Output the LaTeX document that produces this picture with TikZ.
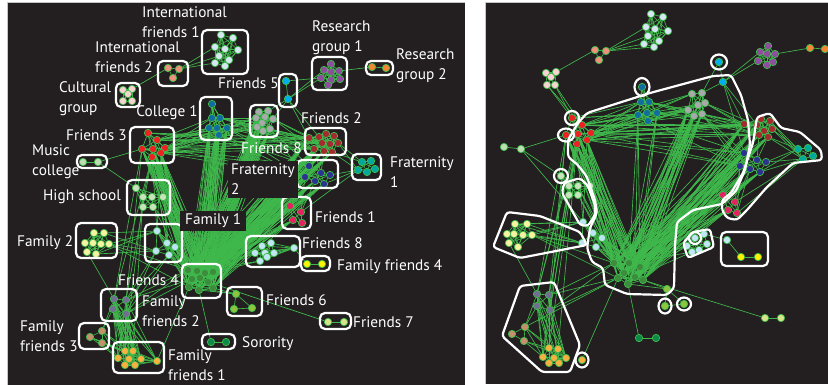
\documentclass[tikz,border=0pt]{standalone}
\usepackage{fontspec}
\setmainfont{PT Sans}
\definecolor{panel}{HTML}{231F20}
\definecolor{link}{HTML}{3FB94C}
\definecolor{cIFa}{HTML}{D6E6F2}
\definecolor{cIFb}{HTML}{F1917D}
\definecolor{cCul}{HTML}{F8D3D0}
\definecolor{cCol}{HTML}{116DA0}
\definecolor{cFrc}{HTML}{EE2024}
\definecolor{cMus}{HTML}{BFDDB3}
\definecolor{cHs}{HTML}{C7E4BA}
\definecolor{cFaa}{HTML}{BDE3F5}
\definecolor{cFab}{HTML}{F7F3A1}
\definecolor{cFrd}{HTML}{3D8B3D}
\definecolor{cFfb}{HTML}{716E92}
\definecolor{cFfc}{HTML}{C6906D}
\definecolor{cFfa}{HTML}{F8B040}
\definecolor{cSor}{HTML}{0D8A47}
\definecolor{cFre}{HTML}{00AEEF}
\definecolor{cRga}{HTML}{904C9E}
\definecolor{cRgb}{HTML}{F48634}
\definecolor{cFhg}{HTML}{A8A9AB}
\definecolor{cFrb}{HTML}{A52A30}
\definecolor{cFta}{HTML}{00A99E}
\definecolor{cFtb}{HTML}{2D3290}
\definecolor{cFra}{HTML}{E6215F}
\definecolor{cFhb}{HTML}{C3E6F5}
\definecolor{cFfd}{HTML}{FFF200}
\definecolor{cFrf}{HTML}{8CC63F}
\definecolor{cFrg}{HTML}{D8E48B}
\pgfdeclarelayer{panels}
\pgfdeclarelayer{links}
\pgfsetlayers{panels,links,main}
% a group of people: prefix, colour, list of positions
\newcommand\grp[3]{\foreach \p [count=\k] in {#3}{\node[person, fill=#2] (#1-\k) at \p {};}}
% members listed in #2 of group #1 tied to members listed in #4 of group #3
\newcommand\link[4]{\foreach \i in {#2}{\foreach \j in {#4}{\draw[edge] (#1-\i) -- (#3-\j);}}}
% every pair inside one group
\newcommand\clq[2]{\foreach \i in {1,...,#2}{\foreach \j in {1,...,#2}{\ifnum\i<\j\relax\draw[edge] (#1-\i) -- (#1-\j);\fi}}}
\begin{document}
\begin{tikzpicture}[x=1pt,y=-1pt,
  person/.style={circle, minimum size=7.4pt, inner sep=0pt, draw=link, line width=0.7pt},
  edge/.style={draw=link, line width=0.65pt},
  grpbox/.style={draw=white, line width=2.2pt, rounded corners=5pt},
  hull/.style={draw=white, line width=2.2pt, rounded corners=3pt},
  lbl/.style={text=white, font=\fontsize{15.3}{20}\selectfont, align=left, inner sep=1pt},
  lblbg/.style={lbl, fill=panel, inner sep=3pt}]
\useasboundingbox (0,0) rectangle (828,385);
\begin{pgfonlayer}{panels}
  \fill[white] (0,0) rectangle (828,385);
  \fill[panel] (7,2) rectangle (465,385);
  \draw[gray!45, line width=0.8pt] (7,385) -- (7,2) -- (465,2);
  \fill[panel] (485,2) rectangle (828,384);
  \draw[gray!45, line width=0.8pt] (485,384) -- (485,2) -- (828,2);
\end{pgfonlayer}

% ---------------- left panel: groups in boxes ----------------
\grp{L-ifa}{cIFa}{(221,35),(233,38),(215,47),(225,49),(238,50),(219,56),(229,60),(215,63),(225,66)}
\grp{L-ifb}{cIFb}{(168,68),(179,69),(173,78)}
\grp{L-cul}{cCul}{(123,90),(132,89),(128,94),(123,101),(132,101)}
\grp{L-col}{cCol}{(212,104),(212,118),(220,118),(209,128),(217,128),(227,128),(219,135)}
\grp{L-frc}{cFrc}{(148,133),(157,140),(142,149),(153,149),(165,148),(152,157),(161,153)}
\grp{L-mus}{cMus}{(83,162),(98,162)}
\grp{L-hs}{cHs}{(136,188),(143,197),(152,197),(163,197),(143,207),(153,207)}
\grp{L-faa}{cFaa}{(157,231),(167,243),(175,247),(156,251),(169,255)}
\grp{L-fab}{cFab}{(94,233),(104,233),(85,243),(93,243),(101,244),(109,244),(87,252),(96,254)}
\grp{L-frd}{cFrd}{(188,270),(197,271),(205,273),(213,272),(192,279),(200,278),(208,282),(189,287),(199,290),(213,288)}
\grp{L-ffb}{cFfb}{(114,299),(126,300),(113,309),(126,314)}
\grp{L-ffc}{cFfc}{(90,337),(102,331),(102,343)}
\grp{L-ffa}{cFfa}{(125,351),(133,351),(118,358),(129,359),(141,359),(125,365),(135,365),(157,361)}
\grp{L-sor}{cSor}{(211,342),(226,342)}
\grp{L-fre}{cFre}{(286,81),(288,99)}
\grp{L-rga}{cRga}{(331,64),(324,70),(339,71),(331,72),(321,78),(331,80),(340,79),(328,85)}
\grp{L-rgb}{cRgb}{(372,67),(386,68)}
\grp{L-fhg}{cFhg}{(259,112),(268,111),(256,118),(265,117),(273,119),(262,123),(257,127),(263,131),(270,129)}
\grp{L-frb}{cFrb}{(309,138),(319,137),(326,134),(334,136),(322,143),(330,144),(338,143),(314,149),(324,151),(332,152)}
\grp{L-fta}{cFta}{(362,162),(371,161),(358,170),(367,172),(375,169)}
\grp{L-ftb}{cFtb}{(309,166),(321,173),(330,175),(305,177),(315,181),(324,184)}
\grp{L-fra}{cFra}{(290,206),(301,212),(293,220),(302,223)}
\grp{L-fhb}{cFhb}{(262,246),(271,243),(255,253),(265,253),(274,253),(260,261),(267,257),(294,248)}
\grp{L-ffd}{cFfd}{(307,264),(322,264)}
\grp{L-frf}{cFrf}{(236,294),(234,309),(252,308)}
\grp{L-frg}{cFrg}{(328,322),(344,322)}

\begin{pgfonlayer}{links}
  % ties inside each group
  \clq{L-ifa}{9} \clq{L-ifb}{3} \clq{L-cul}{5} \clq{L-col}{7} \clq{L-frc}{7}
  \clq{L-mus}{2} \clq{L-hs}{6} \clq{L-faa}{5} \clq{L-fab}{8} \clq{L-frd}{10}
  \clq{L-ffb}{4} \clq{L-ffc}{3} \clq{L-ffa}{8} \clq{L-sor}{2} \clq{L-fre}{2}
  \clq{L-rga}{8} \clq{L-rgb}{2} \clq{L-fhg}{9} \clq{L-frb}{10} \clq{L-fta}{5}
  \clq{L-ftb}{6} \clq{L-fra}{4} \clq{L-fhb}{8} \clq{L-ffd}{2} \clq{L-frf}{3}
  \clq{L-frg}{2}
  % ties between groups
  \link{L-ifa}{3,6,8}{L-ifb}{2}
  \link{L-ifb}{1}{L-cul}{2}
  \link{L-fre}{1,2}{L-rga}{5} \link{L-fre}{2}{L-rga}{2}
  \link{L-rga}{3}{L-rgb}{1}
  \link{L-fre}{2}{L-fhg}{2,5} \link{L-fre}{2}{L-frb}{1,2}
  \link{L-mus}{2}{L-frc}{3} \link{L-mus}{2}{L-hs}{1}
  \link{L-frc}{6}{L-hs}{2}
  % the strong ties that meet at Friends 4
  \link{L-frc}{3,4,6,7}{L-frd}{1,...,10}
  \link{L-col}{4,5,6,7}{L-frd}{1,...,10}
  \link{L-fhg}{3,6,7,8,9}{L-frd}{1,...,10}
  \link{L-frb}{1,5,8,9,10}{L-frd}{1,...,10}
  \link{L-ftb}{1,4,5,6}{L-frd}{1,...,10}
  \link{L-fra}{1,3}{L-frd}{1,...,10}
  \link{L-fhb}{1,3,6}{L-frd}{2,4}
  \link{L-faa}{1,2,3,5}{L-frd}{1,3,5,8}
  \link{L-frc}{6,7}{L-faa}{1,2,5}
  \link{L-hs}{4,6}{L-frd}{1,4}
  % ties across the top
  \link{L-frc}{2,5}{L-col}{2,4,6}
  \link{L-frc}{2,5,7}{L-fhg}{3,5,7}
  \link{L-frc}{1,2,5,7}{L-frb}{1,5,8}
  \link{L-frc}{5,7}{L-ftb}{1,4}
  \link{L-col}{2,3,6}{L-fhg}{3,6}
  \link{L-col}{3,6}{L-frb}{1,5,8}
  \link{L-col}{6,7}{L-ftb}{1,4}
  \link{L-fhg}{5,9}{L-frb}{1,5,8}
  \link{L-fhg}{9}{L-ftb}{1,4}
  \link{L-frb}{7,10}{L-fta}{1,3}
  \link{L-ftb}{3,6}{L-fta}{3}
  \link{L-frb}{8,9}{L-ftb}{1,2}
  \link{L-fra}{1,2}{L-ftb}{4,5}
  \link{L-fra}{2}{L-fta}{3}
  % family ties
  \link{L-fab}{2,6,8}{L-faa}{1,4}
  \link{L-fab}{6}{L-frd}{1,8}
  \link{L-fab}{7}{L-ffb}{1}
  \link{L-ffb}{2,4}{L-frd}{1,5}
  \link{L-ffb}{2,4}{L-faa}{4,5}
  \link{L-ffb}{1,...,4}{L-ffa}{1,...,8}
  \link{L-ffc}{1,2,3}{L-ffa}{1,3,5}
  \link{L-ffb}{1,3}{L-ffc}{2}
  \link{L-ffb}{1,2}{L-frc}{3,6}
  \link{L-ffa}{1,2}{L-hs}{2}
  \link{L-ffa}{8}{L-frd}{8}
  \link{L-frd}{8,9,10}{L-frf}{1}
  \link{L-frd}{7}{L-frg}{1}
  \link{L-frd}{9}{L-sor}{1}
  \link{L-fhb}{8}{L-ffd}{1}
\end{pgfonlayer}

% boxes round the groups
\draw[grpbox] (202,30) rectangle (248,74);
\draw[grpbox] (158,61) rectangle (188,86);
\draw[grpbox] (116,83) rectangle (140,107);
\draw[grpbox] (200,97) rectangle (232,140);
\draw[grpbox] (130,127) rectangle (174,163);
\draw[grpbox] (77,155) rectangle (107,168);
\draw[grpbox] (127,180) rectangle (170,215);
\draw[grpbox] (145,224) rectangle (182,262);
\draw[grpbox] (76,223) rectangle (117,258);
\draw[grpbox] (182,264) rectangle (221,298);
\draw[grpbox] (101,289) rectangle (137,321);
\draw[grpbox] (79,323) rectangle (109,349);
\draw[grpbox] (113,342) rectangle (164,373);
\draw[grpbox] (202,334) rectangle (235,349);
\draw[grpbox] (279,74) rectangle (297,107);
\draw[grpbox] (312,57) rectangle (347,90);
\draw[grpbox] (366,61) rectangle (393,75);
\draw[grpbox] (250,105) rectangle (278,137);
\draw[grpbox] (305,128) rectangle (346,155);
\draw[grpbox] (352,154) rectangle (381,180);
\draw[grpbox] (297,160) rectangle (338,188);
\draw[grpbox] (282,197) rectangle (311,229);
\draw[grpbox] (246,236) rectangle (300,267);
\draw[grpbox] (301,256) rectangle (330,271);
\draw[grpbox] (227,287) rectangle (262,316);
\draw[grpbox] (320,313) rectangle (351,329);

% group names
\node[lbl, anchor=west] (t-ifa) at (141,22) {International\\friends 1};
\node[lbl, anchor=west] (t-ifb) at (94,57.5) {International\\friends 2};
\node[lbl, anchor=west] (t-cul) at (58,98.5) {Cultural\\group};
\node[lbl, anchor=east] (t-col) at (199,113) {College 1};
\node[lbl, anchor=west] (t-frc) at (65,135) {Friends 3};
\node[lbl, anchor=west] (t-mus) at (31,161.5) {Music\\college};
\node[lbl, anchor=west] (t-hs) at (42,197) {High school};
\node[lblbg, anchor=west, minimum width=66pt] (t-faa) at (180,221) {Family 1};
\node[lbl, anchor=west] (t-fab) at (16,243) {Family 2};
\node[lbl, anchor=west] (t-frd) at (117,280) {Friends 4};
\node[lbl, anchor=west] (t-ffb) at (141,311) {Family\\friends 2};
\node[lbl, anchor=west] (t-ffc) at (19,336) {Family\\friends 3};
\node[lbl, anchor=west] (t-ffa) at (167,365) {Family\\friends 1};
\node[lbl, anchor=west] (t-sor) at (241,344) {Sorority};
\node[lbl, anchor=west] (t-fre) at (217,83) {Friends 5};
\node[lbl, anchor=west] (t-rga) at (311,37.5) {Research\\group 1};
\node[lbl, anchor=west] (t-rgb) at (395,66) {Research\\group 2};
\node[lbl, anchor=west] (t-fhg) at (240,148) {Friends 8};
\node[lbl, anchor=west] (t-frb) at (300,118) {Friends 2};
\node[lbl, anchor=west] (t-fta) at (389,172.5) {Fraternity\\1};
\node[lblbg, anchor=west] (t-ftb) at (228,179.5) {Fraternity\\2};
\node[lbl, anchor=west] (t-fra) at (314,217) {Friends 1};
\node[lbl, anchor=west] (t-fhb) at (301,243) {Friends 8};
\node[lbl, anchor=west] (t-ffd) at (336,267) {Family friends 4};
\node[lbl, anchor=west] (t-frf) at (265,300) {Friends 6};
\node[lbl, anchor=west] (t-frg) at (352,322) {Friends 7};

% ---------------- right panel: same people, laid out by ties ----------------
\grp{R-ifa}{cIFa}{(651,14),(663,17),(646,27),(655,29),(668,31),(648,36),(659,41),(644,44),(654,47)}
\grp{R-ifb}{cIFb}{(595,50),(606,51),(599,60)}
\grp{R-cul}{cCul}{(546,73),(556,72),(551,77),(547,85),(555,85)}
\grp{R-col}{cCol}{(642,87),(641,102),(649,102),(638,115),(647,113),(657,113),(648,121)}
\grp{R-frc}{cFrc}{(572,118),(566,135),(582,125),(578,134),(591,133),(577,144),(587,140)}
\grp{R-mus}{cMus}{(504,147),(521,149)}
\grp{R-hs}{cHs}{(561,176),(569,186),(578,186),(590,186),(569,195),(578,195)}
\grp{R-faa}{cFaa}{(583,222),(593,233),(602,238),(582,243),(596,247)}
\grp{R-fab}{cFab}{(515,224),(527,224),(507,234),(514,234),(523,235),(532,235),(509,243),(518,247)}
\grp{R-frd}{cFrd}{(614,263),(629,263),(640,267),(624,273),(635,277),(643,280),(618,278),(628,284)}
\grp{R-ffb}{cFfb}{(537,294),(549,295),(537,306),(550,310)}
\grp{R-ffc}{cFfc}{(525,327),(512,334),(524,341)}
\grp{R-ffa}{cFfa}{(549,348),(558,349),(543,357),(554,358),(566,358),(549,363),(559,363),(582,360)}
\grp{R-sor}{cSor}{(639,338),(656,338)}
\grp{R-fre}{cFre}{(719,62),(723,82)}
\grp{R-rga}{cRga}{(768,46),(760,52),(767,54),(775,54),(758,61),(767,65),(773,62)}
\grp{R-rgb}{cRgb}{(810,48),(825,49)}
\grp{R-fhg}{cFhg}{(692,94),(702,93),(688,110),(698,105),(705,103),(694,116),(702,114)}
\grp{R-frb}{cFrb}{(744,124),(761,119),(770,121),(757,125),(764,131),(772,129),(759,135),(768,137)}
\grp{R-fta}{cFta}{(798,149),(808,148),(803,159),(813,156)}
\grp{R-ftb}{cFtb}{(744,153),(757,160),(766,162),(740,166),(750,169),(760,172)}
\grp{R-fra}{cFra}{(723,195),(735,202),(728,210),(737,213)}
\grp{R-fhb}{cFhb}{(695,238),(704,234),(687,246),(707,244),(692,252),(699,250),(727,240)}
\grp{R-ffd}{cFfd}{(741,257),(758,257)}
\grp{R-frf}{cFrf}{(667,289),(665,306),(684,304)}
\grp{R-frg}{cFrg}{(765,318),(781,318)}

\begin{pgfonlayer}{links}
  \clq{R-ifa}{9} \clq{R-ifb}{3} \clq{R-cul}{5} \clq{R-col}{7} \clq{R-frc}{7}
  \clq{R-mus}{2} \clq{R-hs}{6} \clq{R-faa}{5} \clq{R-fab}{8} \clq{R-frd}{8}
  \clq{R-ffb}{4} \clq{R-ffc}{3} \clq{R-ffa}{7} \clq{R-sor}{2} \clq{R-fre}{2}
  \clq{R-rga}{7} \clq{R-rgb}{2} \clq{R-fhg}{7} \clq{R-frb}{8} \clq{R-fta}{4}
  \clq{R-ftb}{6} \clq{R-fra}{4} \clq{R-fhb}{6} \clq{R-ffd}{2} \clq{R-frf}{3}
  \clq{R-frg}{2}
  \link{R-ifa}{3,6,8,9}{R-ifb}{2}
  \link{R-ifb}{1}{R-cul}{2}
  \link{R-cul}{4,5}{R-frc}{1,3}
  \link{R-mus}{2}{R-frc}{2} \link{R-mus}{2}{R-hs}{1} \link{R-mus}{2}{R-faa}{1}
  \link{R-fre}{2}{R-rga}{2,5}
  \link{R-rga}{4}{R-rgb}{1}
  \link{R-fre}{1,2}{R-fhg}{2} \link{R-fre}{2}{R-frb}{1,4} \link{R-fre}{2}{R-ftb}{1}
  % the strong ties that meet at Friends 4
  \link{R-frc}{2,4,6,7}{R-frd}{1,...,8}
  \link{R-fhg}{3,4,6,7}{R-frd}{1,...,8}
  \link{R-col}{4,6}{R-frd}{2,3,5}
  \link{R-frb}{1,4,7,8}{R-frd}{1,...,8}
  \link{R-ftb}{1,4,5,6}{R-frd}{1,...,8}
  \link{R-fra}{1,3}{R-frd}{1,...,8}
  \link{R-faa}{1,2,3,5}{R-frd}{1,3,4,6}
  \link{R-fhb}{1,3,5}{R-frd}{2,5}
  \link{R-hs}{3,6}{R-frd}{1,4}
  \link{R-frc}{6,7}{R-faa}{1,3}
  % ties across the top
  \link{R-frc}{1,3,5,7}{R-col}{2,4,6}
  \link{R-frc}{3,5,7}{R-fhg}{1,3,5}
  \link{R-frc}{3,4,5,7}{R-frb}{1,4,7}
  \link{R-frc}{5,7}{R-ftb}{1,4}
  \link{R-col}{3,6,7}{R-fhg}{3,6}
  \link{R-col}{3,6}{R-frb}{1,7}
  \link{R-col}{7}{R-ftb}{1,4}
  \link{R-fhg}{5,7}{R-frb}{1,4,7}
  \link{R-fhg}{7}{R-ftb}{1,4,5}
  \link{R-frb}{3,6,8}{R-fta}{1,3}
  \link{R-ftb}{3,6}{R-fta}{1,3}
  \link{R-frb}{7,8}{R-ftb}{1,2}
  \link{R-fra}{2,4}{R-ftb}{4,5}
  \link{R-fra}{2,4}{R-fta}{3}
  % family ties
  \link{R-fab}{1,2,5,6}{R-faa}{1,4}
  \link{R-fab}{6}{R-frd}{1,7}
  \link{R-fab}{7}{R-ffb}{1}
  \link{R-ffb}{1,2,4}{R-frc}{2,4,6}
  \link{R-ffa}{1,2}{R-frc}{6}
  \link{R-ffb}{2,4}{R-frd}{1,7}
  \link{R-ffb}{1,...,4}{R-ffa}{1,3,5,7}
  \link{R-ffc}{1,3}{R-ffa}{1,3,5}
  \link{R-ffb}{1,3}{R-ffc}{1}
  \link{R-ffa}{8}{R-frd}{7}
  \link{R-ffc}{1}{R-frd}{7}
  \link{R-frd}{6,8}{R-frf}{1}
  \link{R-frf}{1}{R-frf}{2}
  \link{R-frd}{8}{R-sor}{1}
  \link{R-frd}{6}{R-frg}{1}
  \link{R-fhb}{2}{R-fhb}{7}
  \link{R-fhb}{7}{R-ffd}{1}
\end{pgfonlayer}

% outlines round the communities found
\draw[hull] (587,113) -- (650,93) -- (713,76) -- (731,75) -- (741,95) -- (748,120)
  -- (750,145) -- (745,170) -- (736,191) -- (722,204) -- (693,210) -- (677,222)
  -- (675,245) -- (674,288) -- (667,295) -- (627,294) -- (605,285) -- (603,268)
  -- (592,262) -- (587,248) -- (590,228) -- (597,213) -- (595,200) -- (587,177)
  -- (578,165) -- (568,157) -- (568,140) -- (578,123) -- cycle;
\draw[hull] (757,117) -- (770,113) -- (781,128) -- (800,132) -- (821,150) -- (822,160)
  -- (793,163) -- (767,187) -- (747,210) -- (737,220) -- (727,218) -- (722,210)
  -- (722,200) -- (731,193) -- (743,173) -- (753,143) -- cycle;
\draw[hull] (564,183) -- (580,178) -- (588,186) -- (595,205) -- (595,215) -- (588,226)
  -- (580,225) -- (570,207) -- (562,193) -- cycle;
\draw[hull] (507,212) -- (540,216) -- (580,232) -- (587,245) -- (520,258) -- (493,247) -- cycle;
\draw[hull] (520,286) -- (554,282) -- (580,345) -- (570,372) -- (542,372) -- (502,336) -- cycle;
\draw[hull] (683,243) -- (693,232) -- (710,229) -- (714,247) -- (688,258) -- cycle;
\draw[grpbox] (721,232) rectangle (768,266);
\draw[hull] (R-fre-1) ellipse[x radius=8pt, y radius=7.5pt];
\draw[hull] (R-col-1) ellipse[x radius=7.5pt, y radius=9pt];
\draw[hull] (R-frc-1) ellipse[x radius=7pt, y radius=7pt];
\draw[hull] (R-frc-2) ellipse[x radius=8pt, y radius=6.5pt];
\draw[hull] (R-hs-1) ellipse[x radius=7pt, y radius=7pt];
\draw[hull] (R-frf-2) ellipse[x radius=6.5pt, y radius=7.5pt];
\draw[hull] (R-frf-3) ellipse[x radius=7pt, y radius=6.5pt];
\draw[hull] (R-ffa-8) ellipse[x radius=6.5pt, y radius=7.5pt];
\draw[hull] (R-fhb-1) ellipse[x radius=6pt, y radius=6pt];
\end{tikzpicture}
\end{document}
